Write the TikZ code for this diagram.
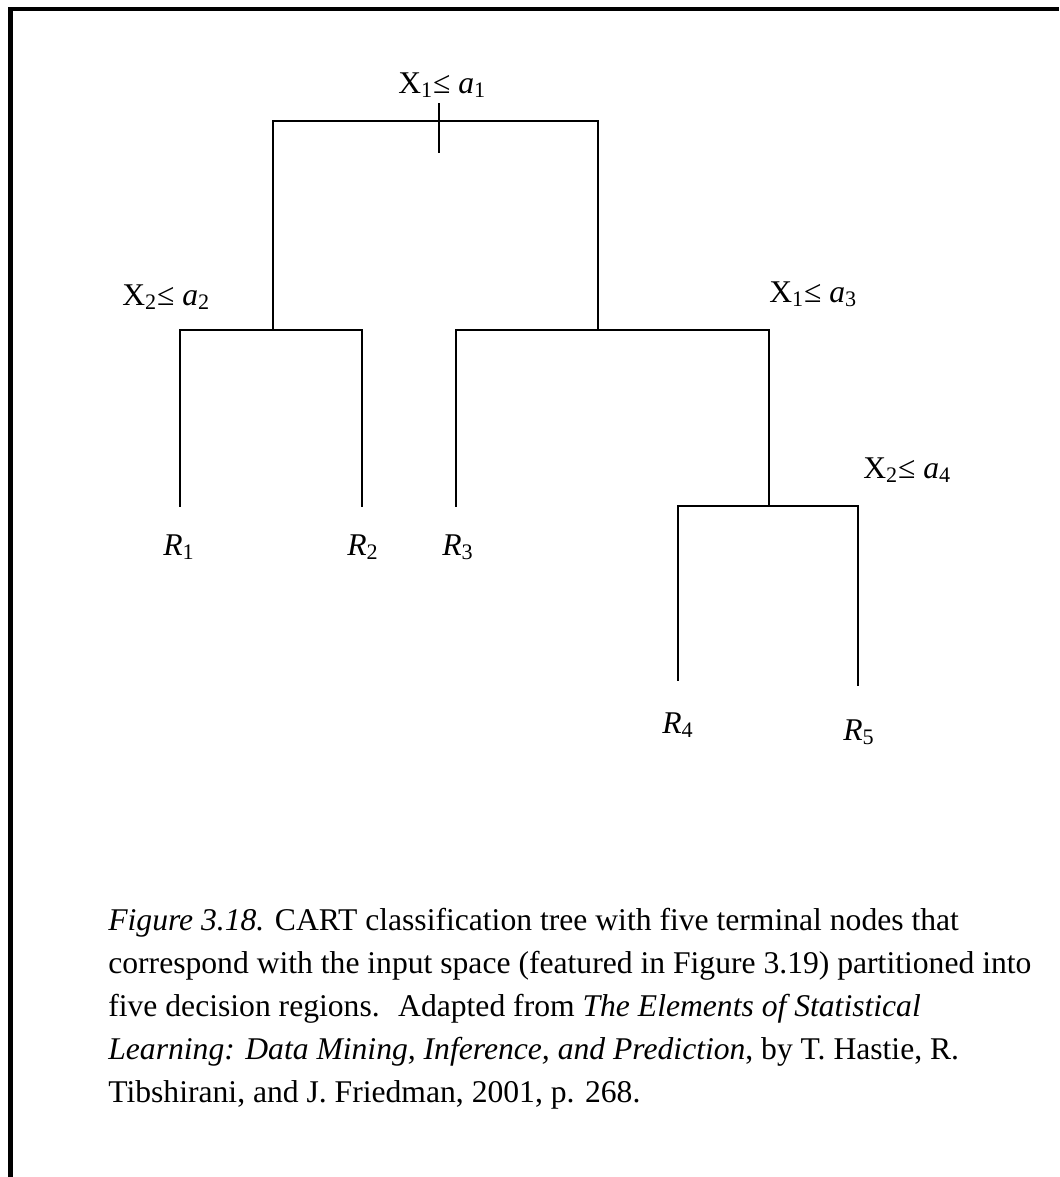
\documentclass[tikz,border=0pt]{standalone}
\usepackage{fontspec}
\setmainfont{Liberation Serif}
\usepackage{tikz}
\usetikzlibrary{positioning}
\tikzset{
  split/.style={anchor=base west, inner sep=0pt, font=\fontsize{18pt}{22pt}\selectfont},
  leaf/.style={anchor=base west, inner sep=0pt, font=\fontsize{18pt}{22pt}\selectfont\itshape},
  branch/.style={line width=1.1pt, line cap=rect},
  frame/.style={line width=2.8pt, line join=miter},
  caption/.style={anchor=base west, inner sep=0pt, align=left, font=\fontsize{18pt}{24.4pt}\selectfont}
}

\begin{document}
\begin{tikzpicture}[x=0.02cm, y=-0.02cm]
  \useasboundingbox (0,0) rectangle (1059,1177);
  \draw[frame] (10.5,1177) -- (10.5,9) -- (1059,9);
  % split points
  \coordinate (tick1) at (439,104);
  \coordinate (tick2) at (439,152);
  \coordinate (n1l) at (273,121);
  \coordinate (n1r) at (598,121);
  \coordinate (n2) at (273,330);
  \coordinate (n2l) at (180,330);
  \coordinate (n2r) at (362,330);
  \coordinate (n3) at (598,330);
  \coordinate (n3l) at (456,330);
  \coordinate (n3r) at (769,330);
  \coordinate (n4) at (769,506);
  \coordinate (n4l) at (678,506);
  \coordinate (n4r) at (858,506);
  % leaf ends
  \coordinate (e1) at (180,506);
  \coordinate (e2) at (362,506);
  \coordinate (e3) at (456,506);
  \coordinate (e4) at (678,680);
  \coordinate (e5) at (858,685);
  \node[split] (s1) at (398,93) {X\textsubscript{1}≤ \textit{a}\textsubscript{1}};
  \node[split] (s2) at (122,305) {X\textsubscript{2}≤ \textit{a}\textsubscript{2}};
  \node[split] (s3) at (769,302) {X\textsubscript{1}≤ \textit{a}\textsubscript{3}};
  \node[split] (s4) at (863,478) {X\textsubscript{2}≤ \textit{a}\textsubscript{4}};
  \node[leaf] (r1) at (163,555) {R\textsubscript{\upshape 1}};
  \node[leaf] (r2) at (347,555) {R\textsubscript{\upshape 2}};
  \node[leaf] (r3) at (442,555) {R\textsubscript{\upshape 3}};
  \node[leaf] (r4) at (662,733) {R\textsubscript{\upshape 4}};
  \node[leaf] (r5) at (843,740) {R\textsubscript{\upshape 5}};
  \draw[branch] (tick1) -- (tick2);
  \draw[branch] (n1l) -- (n1r);
  \draw[branch] (n1l) -- (n2);
  \draw[branch] (n1r) -- (n3);
  \draw[branch] (n2l) -- (n2r);
  \draw[branch] (n2l) -- (e1);
  \draw[branch] (n2r) -- (e2);
  \draw[branch] (n3l) -- (n3r);
  \draw[branch] (n3l) -- (e3);
  \draw[branch] (n3r) -- (n4);
  \draw[branch] (n4l) -- (n4r);
  \draw[branch] (n4l) -- (e4);
  \draw[branch] (n4r) -- (e5);
  % caption, last line on the base anchor
  \node[caption] (cap) at (108,1102) {\textit{Figure 3.18.} CART classification tree with five terminal nodes that\\
    correspond with the input space (featured in Figure 3.19) partitioned into\\
    five decision regions.~ Adapted from \textit{The Elements of Statistical}\\
    \textit{Learning: Data Mining, Inference, and Prediction}, by T. Hastie, R.\\
    Tibshirani, and J. Friedman, 2001, p. 268.};
\end{tikzpicture}
\end{document}
